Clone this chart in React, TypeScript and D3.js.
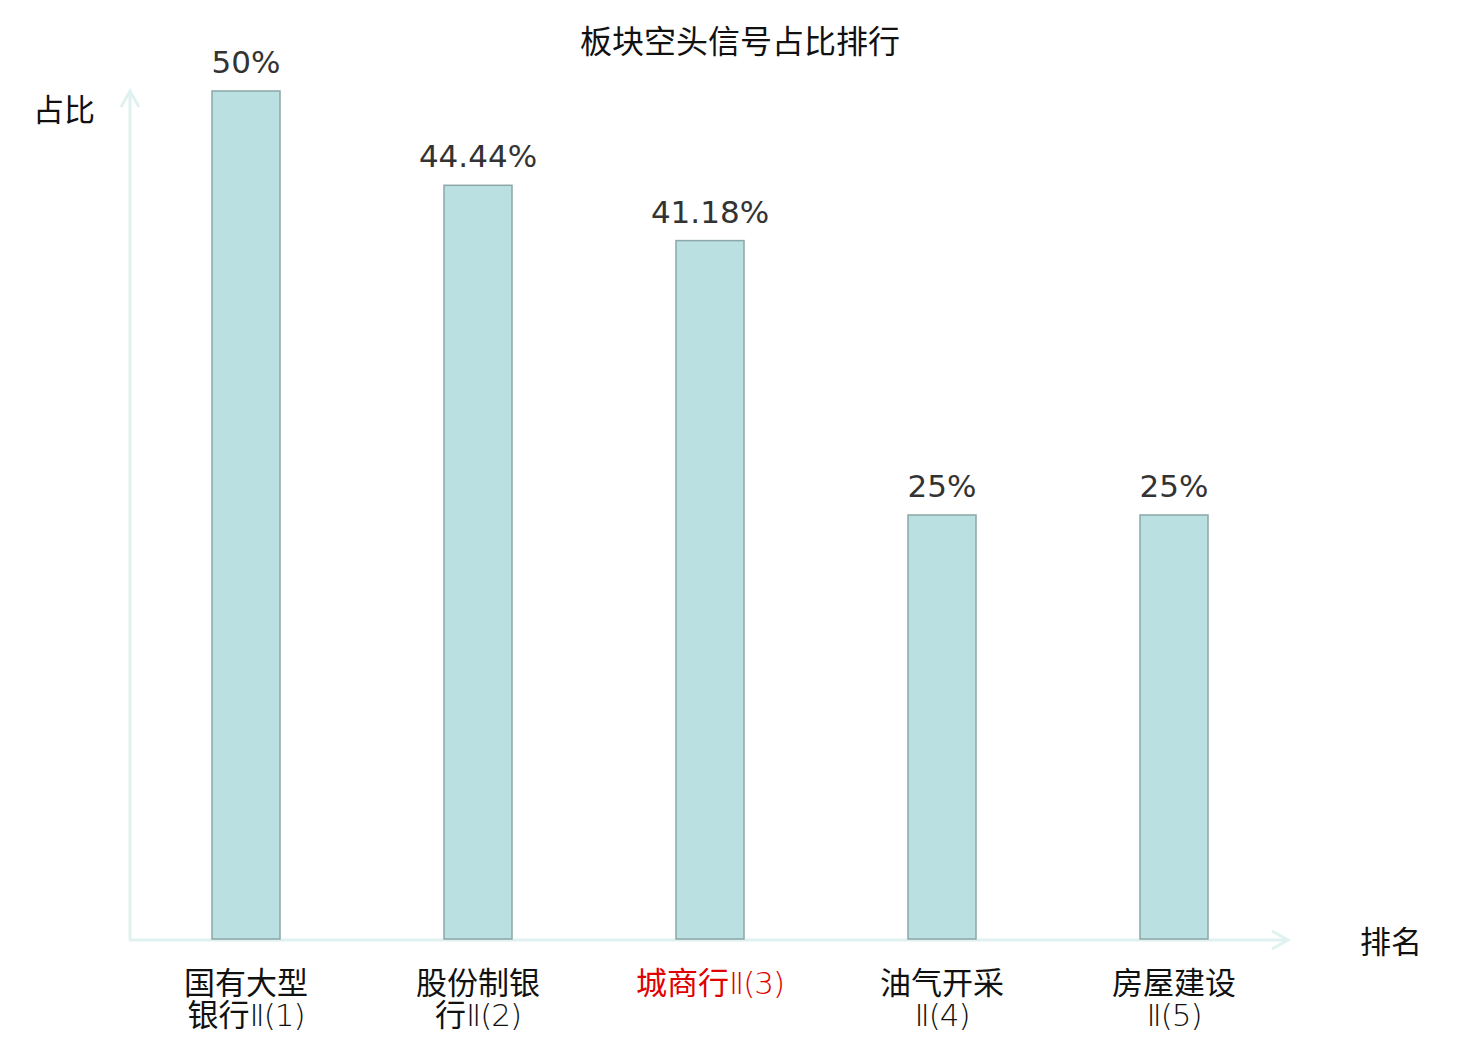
import React from "react";
import * as d3 from "d3";

const categories = ["国有大型银行Ⅱ(1)", "股份制银行Ⅱ(2)", "城商行Ⅱ(3)", "油气开采Ⅱ(4)", "房屋建设Ⅱ(5)"];
// each line: [cjk part, latin part]
const labelLines: [string, string][][] = [
  [["国有大型", ""], ["银行", "Ⅱ(1)"]],
  [["股份制银", ""], ["行", "Ⅱ(2)"]],
  [["城商行", "Ⅱ(3)"]],
  [["油气开采", ""], ["", "Ⅱ(4)"]],
  [["房屋建设", ""], ["", "Ⅱ(5)"]],
];
const values = [50, 44.44, 41.18, 25, 25];
const valueLabels = ["50%", "44.44%", "41.18%", "25%", "25%"];
const highlighted = ["城商行Ⅱ(3)"];

const W = 1480;
const H = 1040;
const CJK = "'Noto Sans CJK SC', 'Noto Sans', sans-serif";
const LATIN = "'DejaVu Sans', sans-serif";
const THIN = "'DejaVu Sans', 'Noto Sans', sans-serif";

export default function App() {
  const x = d3.scaleBand<string>().domain(categories).range([130, 1290]).padding(0);
  const y = d3.scaleLinear().domain([0, 50]).range([939, 91]);
  const barW = 68;
  const axisColor = "#dff2ef";

  return (
    <svg width={W} height={H} style={{ position: "absolute", left: 0, top: 0, background: "#fff" }}>
      <text x={740} y={53} textAnchor="middle" fontFamily={CJK} fontSize={32} fill="#111">
        板块空头信号占比排行
      </text>
      {/* axes */}
      <line x1={130} y1={940} x2={130} y2={92} stroke={axisColor} strokeWidth={3} />
      <polyline points="121,107 130,91 139,107" fill="none" stroke={axisColor} strokeWidth={3} />
      <line x1={129} y1={940} x2={1288} y2={940} stroke={axisColor} strokeWidth={3} />
      <polyline points="1272,931 1288,940 1272,949" fill="none" stroke={axisColor} strokeWidth={3} />
      <text x={33} y={121} fontFamily={CJK} fontSize={31} fill="#111">占比</text>
      <text x={1360} y={953} fontFamily={CJK} fontSize={31} fill="#111">排名</text>
      {categories.map((c, i) => {
        const cx = (x(c) as number) + x.bandwidth() / 2;
        const top = y(values[i]);
        const hl = highlighted.includes(c);
        return (
          <g key={c}>
            <rect x={cx - barW / 2} y={top} width={barW} height={y(0) - top} fill="#bbe0e2" stroke="#8ba7a8" strokeWidth={1.5} />
            <text x={cx} y={top - 18} textAnchor="middle" fontFamily={LATIN} fontSize={31} fill="#333">
              {valueLabels[i]}
            </text>
            {labelLines[i].map(([cjk, lat], j) => (
              <text key={j} x={cx} y={994 + j * 32} textAnchor="middle" fontFamily={CJK} fontSize={31} fill={hl ? "#e00000" : "#111"}>
                {cjk}
                {lat && (
                  <tspan fontFamily={THIN} fontWeight={200} letterSpacing={-1}>
                    {lat}
                  </tspan>
                )}
              </text>
            ))}
          </g>
        );
      })}
    </svg>
  );
}
